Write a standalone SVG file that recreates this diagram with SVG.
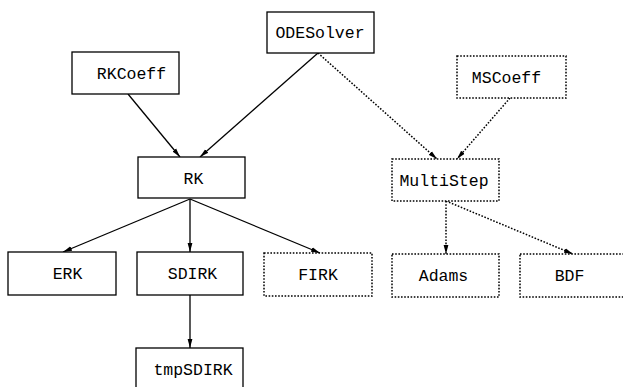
<svg xmlns="http://www.w3.org/2000/svg" width="623" height="387" viewBox="0 0 623 387">
<style>
.box{fill:#fff;stroke:#000;stroke-width:1.3}
.dot{stroke-dasharray:1.6 1.6;stroke-width:1.5}
.t{font-family:"Liberation Mono","DejaVu Sans Mono",monospace;font-size:16.5px;fill:#000;text-anchor:middle}
.e{fill:none;stroke:#000;stroke-width:1.3}
.ed{stroke-dasharray:1.6 1.6;stroke-width:1.5}
</style>
<defs>
<marker id="ah" markerWidth="9" markerHeight="6" refX="9" refY="3" orient="auto" markerUnits="userSpaceOnUse">
<path d="M0,0.6 L9,3 L0,5.4 Z" fill="#000"/>
</marker>
</defs>
<rect width="623" height="387" fill="#fff"/>
<g id="connectors">
<line class="e" x1="128" y1="94" x2="180" y2="157" marker-end="url(#ah)"/>
<line class="e" x1="318" y1="53" x2="200" y2="157" marker-end="url(#ah)"/>
<line class="e ed" x1="318" y1="53" x2="437" y2="159" marker-end="url(#ah)"/>
<line class="e ed" x1="510" y1="98" x2="457" y2="159" marker-end="url(#ah)"/>
<line class="e" x1="190" y1="199" x2="63" y2="252" marker-end="url(#ah)"/>
<line class="e" x1="190" y1="199" x2="190" y2="252" marker-end="url(#ah)"/>
<line class="e" x1="190" y1="199" x2="320" y2="253" marker-end="url(#ah)"/>
<line class="e" x1="190" y1="295" x2="190" y2="348" marker-end="url(#ah)"/>
<line class="e ed" x1="446" y1="201" x2="446" y2="254" marker-end="url(#ah)"/>
<line class="e ed" x1="446" y1="201" x2="573" y2="254" marker-end="url(#ah)"/>
</g>
<g id="ODESolver"><rect class="box" x="267" y="12" width="107" height="41"/><text class="t" x="320" y="38">ODESolver</text></g>
<g id="RKCoeff"><rect class="box" x="72" y="52" width="107" height="42"/><text class="t" x="131.5" y="79">RKCoeff</text></g>
<g id="MSCoeff"><rect class="box dot" x="457" y="56" width="109" height="42"/><text class="t" x="506.5" y="83">MSCoeff</text></g>
<g id="RK"><rect class="box" x="138" y="157" width="107" height="41"/><text class="t" x="193.5" y="184">RK</text></g>
<g id="MultiStep"><rect class="box dot" x="392" y="159" width="107" height="42"/><text class="t" x="444" y="186">MultiStep</text></g>
<g id="ERK"><rect class="box" x="8" y="252" width="108" height="43"/><text class="t" x="67.5" y="279">ERK</text></g>
<g id="SDIRK"><rect class="box" x="137" y="252" width="106" height="43"/><text class="t" x="192.5" y="279">SDIRK</text></g>
<g id="FIRK"><rect class="box dot" x="264" y="253" width="108" height="43"/><text class="t" x="318" y="280">FIRK</text></g>
<g id="Adams"><rect class="box dot" x="392" y="254" width="107" height="43"/><text class="t" x="443.5" y="281">Adams</text></g>
<g id="BDF"><rect class="box dot" x="520" y="254" width="107" height="43"/><text class="t" x="569.5" y="281">BDF</text></g>
<g id="tmpSDIRK"><rect class="box" x="136" y="348" width="107" height="43"/><text class="t" x="193" y="375">tmpSDIRK</text></g>
</svg>
